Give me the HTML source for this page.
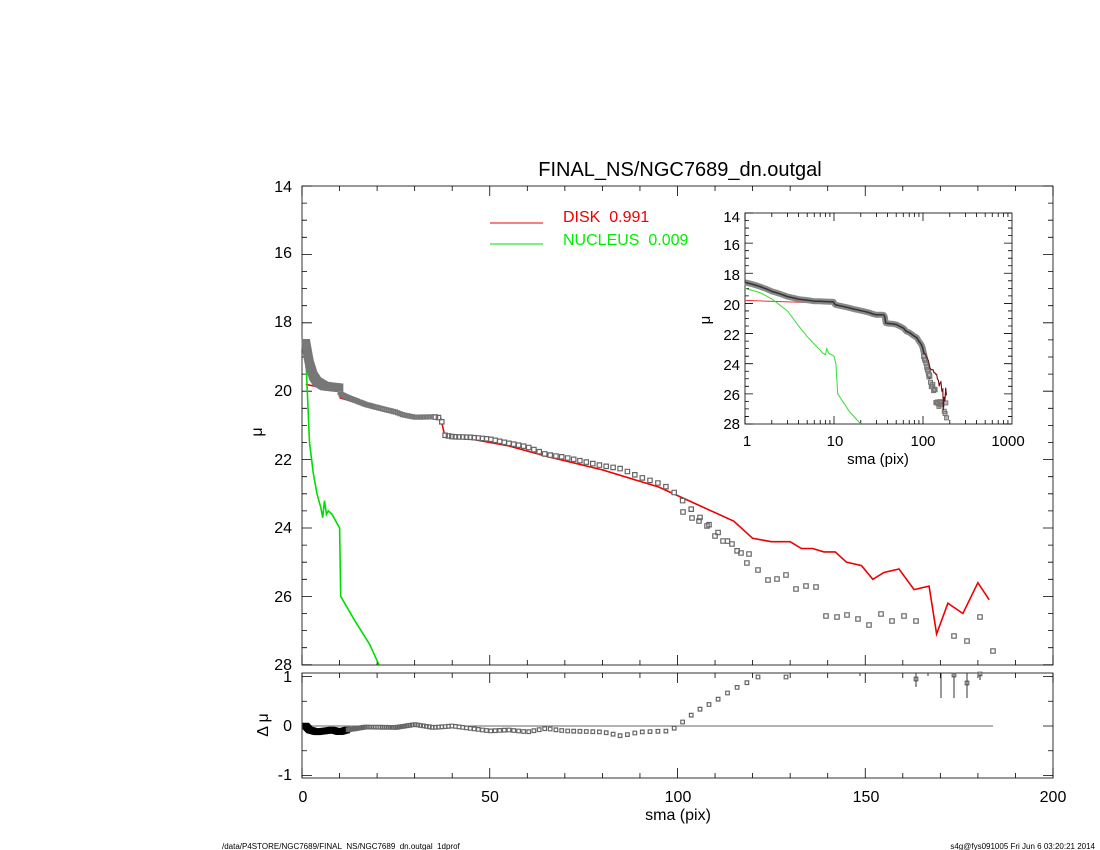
<!DOCTYPE html>
<html><head><meta charset="utf-8"><style>
html,body{margin:0;padding:0;background:#fff;}
svg{display:block;font-family:"Liberation Sans",sans-serif;}
</style></head><body>
<svg id="s" width="1100" height="850" viewBox="0 0 1100 850" xmlns="http://www.w3.org/2000/svg">
<rect width="1100" height="850" fill="#fff"/>
<text x="680" y="176" font-size="20" text-anchor="middle">FINAL_NS/NGC7689_dn.outgal</text>
<g font-size="16" text-anchor="end">
<text x="292" y="192">14</text><text x="292" y="258">16</text><text x="292" y="327">18</text><text x="292" y="396">20</text><text x="292" y="465">22</text><text x="292" y="533">24</text><text x="292" y="602">26</text><text x="292" y="670">28</text>
<text x="292" y="682">1</text><text x="292" y="731">0</text><text x="292" y="780">-1</text>
</g>
<g font-size="16" text-anchor="middle">
<text x="303" y="802">0</text><text x="490" y="802">50</text><text x="678" y="802">100</text><text x="866" y="802">150</text><text x="1053" y="802">200</text>
<text x="678" y="820">sma (pix)</text>
</g>
<text x="262" y="432" font-size="16" transform="rotate(-90 262 432)" text-anchor="middle">μ</text>
<text x="268" y="725" font-size="16" transform="rotate(-90 268 725)" text-anchor="middle">Δ μ</text>
<line x1="490" y1="223" x2="543" y2="223" stroke="#e00" stroke-width="1"/>
<text x="563" y="222" font-size="16" fill="#e00">DISK&#160;&#160;0.991</text>
<line x1="490" y1="244" x2="543" y2="244" stroke="#0d0" stroke-width="1"/>
<text x="563" y="245" font-size="16" fill="#0e0">NUCLEUS&#160;&#160;0.009</text>
<g font-size="15" text-anchor="end">
<text x="740" y="222">14</text><text x="740" y="250">16</text><text x="740" y="280">18</text><text x="740" y="310">20</text><text x="740" y="340">22</text><text x="740" y="370">24</text><text x="740" y="400">26</text><text x="740" y="429">28</text>
</g>
<g font-size="15" text-anchor="middle">
<text x="747" y="446">1</text><text x="835" y="446">10</text><text x="923" y="446">100</text><text x="1008" y="446">1000</text>
<text x="878" y="464">sma (pix)</text>
</g>
<text x="710" y="320" font-size="15" transform="rotate(-90 710 320)" text-anchor="middle">μ</text>
<text x="222" y="849" font-size="8">/data/P4STORE/NGC7689/FINAL_NS/NGC7689_dn.outgal_1dprof</text>
<text x="1095" y="849" font-size="8" text-anchor="end">s4g@fys091005  Fri Jun  6 03:20:21 2014</text>
</svg>
<script>
var S=document.getElementById('s'),NS='http://www.w3.org/2000/svg';
function el(t,a){var e=document.createElementNS(NS,t);for(var k in a)e.setAttribute(k,a[k]);S.appendChild(e);return e;}
function interp(tab,x){if(x<=tab[0][0])return tab[0][1];for(var i=1;i<tab.length;i++){if(x<=tab[i][0]){var a=tab[i-1],b=tab[i];return a[1]+(b[1]-a[1])*(x-a[0])/(b[0]-a[0]);}}return tab[tab.length-1][1];}
var MX=function(x){return 302+3.755*x;},MY=function(m){return 186+34.2*(m-14);};
var IX=function(x){return 745+89*Math.log10(x);},IY=function(m){return 213+15.07*(m-14);};
var RY=function(d){return 726-49.5*d;};
el('rect',{x:302,y:186,width:751,height:479,fill:'none',stroke:'#000','stroke-width':0.8});
el('rect',{x:302,y:673,width:751,height:105,fill:'none',stroke:'#000','stroke-width':0.8});
el('rect',{x:745,y:213,width:267,height:211,fill:'none',stroke:'#000','stroke-width':0.8});
var t='';
for(var v=0;v<=200;v+=10){var X=MX(v),L=(v%50==0)?10:5;t+='M'+X+' 665v-'+L+'M'+X+' 186v'+L+'M'+X+' 778v-'+L+'M'+X+' 673v'+L;}
for(var m=14;m<=28;m+=0.5){var Y=MY(m),L=(m%2==0)?10:5;t+='M302 '+Y+'h'+L+'M1053 '+Y+'h-'+L;}
for(var d=-1;d<=1;d+=0.5){var Y=RY(d),L=(d%1==0)?10:5;t+='M302 '+Y+'h'+L+'M1053 '+Y+'h-'+L;}
for(var dec=0;dec<3;dec++)for(var k=1;k<10;k++){var X=IX(k*Math.pow(10,dec)),L=k==1?8:4;t+='M'+X+' 424v-'+L+'M'+X+' 213v'+L;}
for(var m=14;m<=28;m+=0.5){var Y=IY(m),L=(m%2==0)?8:4;t+='M745 '+Y+'h'+L+'M1012 '+Y+'h-'+L;}
el('path',{d:t,stroke:'#000','stroke-width':0.8,fill:'none'});
var red=[[1,19.8],[10,20.0],[10.2,20.2],[20,20.5],[27,20.7],[37,20.8],[38,21.3],[45,21.4],[55,21.6],[65,21.9],[80,22.3],[95,22.8],[105,23.3],[115,23.8],[120,24.3],[125,24.4],[130,24.4],[133,24.6],[136,24.6],[139,24.7],[142,24.7],[145,25.0],[149,25.1],[152,25.5],[155,25.3],[159,25.2],[163,25.8],[167,25.7],[169,27.1],[172,26.2],[176,26.5],[180,25.6],[183,26.1]];
var res=[[1,0],[2,-0.08],[4,-0.12],[6,-0.1],[8,-0.08],[10,-0.12],[12,-0.08],[17,-0.02],[25,-0.03],[30,0.03],[35,-0.03],[40,0],[45,-0.05],[50,-0.1],[55,-0.08],[60,-0.12],[65,-0.05],[70,-0.1],[80,-0.12],[85,-0.2],[90,-0.12],[98,-0.1],[100,0],[105,0.3],[110,0.5],[115,0.75],[118,0.85],[121,1.0]];
var xs=[],x=1;while(x<121){xs.push(x);x=x*1.022+0.06;}
var p='';red.forEach(function(r,i){p+=(i?'L':'M')+MX(r[0]).toFixed(1)+' '+MY(r[1]).toFixed(1);});
el('path',{d:p,stroke:'#e00','stroke-width':1.6,fill:'none'});
var gr=[[1,19.0],[1.5,20.2],[2,21.5],[3,22.4],[4,23.0],[5,23.4],[5.5,23.7],[6,23.2],[6.5,23.6],[7,23.5],[8,23.6],[10,24.0],[10.3,26.0],[14,26.7],[18,27.4],[20.5,28.0]];
p='';gr.forEach(function(r,i){p+=(i?'L':'M')+MX(r[0]).toFixed(1)+' '+MY(r[1]).toFixed(1);});
el('path',{d:p,stroke:'#0d0','stroke-width':1.6,fill:'none'});
var pts=[];xs.forEach(function(x){var r=interp(res,x);var m=interp(red,x)+r;if(x<10)m=interp([[1,18.6],[2,19.2],[3,19.55],[4,19.72],[6,19.85],[10,19.9]],x);pts.push([x,m,r]);});
var s1='',s2='',s='';
function sqs(X,Y,w){return 'M'+(X-w).toFixed(1)+' '+(Y-w).toFixed(1)+'h'+2*w+'v'+2*w+'h-'+2*w+'z';}
pts.forEach(function(q){if(q[0]<10.1)s1+=sqs(MX(q[0]),MY(q[1]),3.5);else if(q[0]<35)s2+=sqs(MX(q[0]),MY(q[1]),2);else s+=sqs(MX(q[0]),MY(q[1]),2.2);});
var extra=[[683,512],[692,518],[699,521],[707,526],[715,536],[723,541],[732,544],[741,553],[749,554],[758,570],[768,580],[777,579],[786,575],[796,589],[806,586],[816,587],[826,616],[837,617],[847,615],[858,619],[869,625],[881,614],[892,621],[904,616],[916,621],[954,636],[967,641],[980,617],[993,651]];
extra.forEach(function(e){s+=sqs(e[0],e[1],2.2);});
el('path',{d:s1,stroke:'#777','stroke-width':1.5,fill:'#888'});
el('path',{d:s2,stroke:'#777','stroke-width':1.2,fill:'#999'});
el('path',{d:s,stroke:'#666','stroke-width':1.2,fill:'#fff'});
el('line',{x1:302,y1:726,x2:993,y2:726,stroke:'#333','stroke-width':0.8});
s1='';s='';pts.forEach(function(q){if(q[0]<12)s1+=sqs(MX(q[0]),RY(q[2]),2.5);else s+=sqs(MX(q[0]),RY(q[2]),1.8);});
[[758,677],[786,677],[916,679],[954,675],[967,683],[980,674]].forEach(function(e){s+=sqs(e[0],e[1],1.8);});
el('path',{d:s1,stroke:'#000','stroke-width':1.5,fill:'#000'});
el('path',{d:s,stroke:'#666','stroke-width':1.2,fill:'#fff'});
el('path',{d:'M916 673V687M941 673V698M954 673V698M967 673V698M980 673V680M928 673V676M860 673V676',stroke:'#333','stroke-width':1,fill:'none'});
function ipath(tab,col,w){var p='';tab.forEach(function(r,i){p+=(i?'L':'M')+IX(r[0]).toFixed(1)+' '+IY(r[1]).toFixed(1);});el('path',{d:p,stroke:col,'stroke-width':w,fill:'none'});}
ipath(red,'#e33',1);
ipath([[1,19.0],[1.5,19.3],[2,19.7],[3,20.5],[4,21.5],[5,22.2],[6,22.7],[7,23.1],[7.5,23.3],[8,23.4],[8.3,23.0],[8.7,23.3],[10,23.5],[10.5,24],[11,26],[15,27.2],[20,28]],'#3d3',1);
var ip='';pts.forEach(function(q,i){ip+=(i?'L':'M')+IX(q[0]).toFixed(1)+' '+IY(q[1]).toFixed(1);});
el('path',{d:ip,stroke:'#888','stroke-width':6,fill:'none','stroke-linejoin':'round'});
el('path',{d:ip,stroke:'#333','stroke-width':1.5,fill:'none'});
s='';extra.forEach(function(e){var xv=(e[0]-302)/3.755,mv=(e[1]-186)/34.2+14;s+=sqs(IX(xv),IY(mv),2);});
el('path',{d:s,stroke:'#777','stroke-width':1,fill:'#bbb'});
var dk='';red.forEach(function(r){if(r[0]>=100)dk+=(dk?'L':'M')+IX(r[0]).toFixed(1)+' '+IY(r[1]).toFixed(1);});
el('path',{d:dk,stroke:'#611','stroke-width':1,fill:'none'});
</script>
</body></html>
